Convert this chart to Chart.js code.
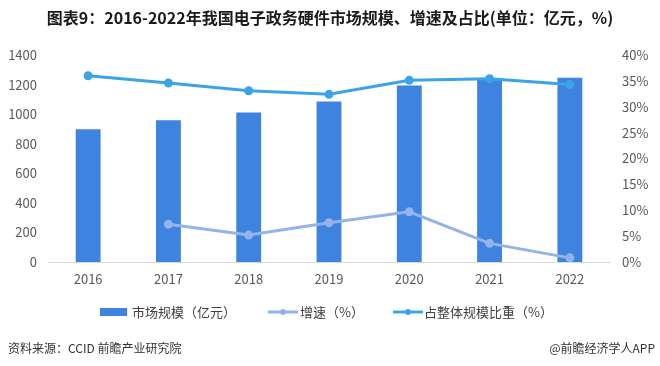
<!DOCTYPE html>
<html>
<head>
<meta charset="utf-8">
<script src="https://cdn.jsdelivr.net/npm/chart.js@4/dist/chart.umd.min.js"></script>
<style>
  html, body { margin: 0; padding: 0; background: #fff; }
  #wrap { position: relative; width: 660px; height: 366px; }
</style>
</head>
<body>
<div id="wrap"><canvas id="hwChart" width="660" height="366"></canvas></div>
<script>
const years = ["2016", "2017", "2018", "2019", "2020", "2021", "2022"];
const marketSize = [897, 958, 1011, 1085, 1194, 1235, 1246];
const growthRate = [null, 7.3, 5.2, 7.6, 9.7, 3.6, 0.8];
const shareOfTotal = [36.0, 34.6, 33.1, 32.4, 35.1, 35.4, 34.3];
const leftTicks = [0, 200, 400, 600, 800, 1000, 1200, 1400];
const rightTicks = [0, 5, 10, 15, 20, 25, 30, 35, 40];

const titleText = "图表9：2016-2022年我国电子政务硬件市场规模、增速及占比(单位：亿元，%)";
const sourceText = "资料来源：CCID 前瞻产业研究院";
const brandText = "@前瞻经济学人APP";

const FONT = '"Noto Sans CJK SC", "Noto Sans", sans-serif';
const barColor = "#3f83e0";
const growthColor = "#93b3ea";
const shareColor = "#3ba4e6";

// title, legend and footer drawn straight on the canvas
const extras = {
  id: "extras",
  afterDraw(chart) {
    const c = chart.ctx;
    c.save();
    c.fillStyle = "#1a1a1a";
    c.font = "bold 16px " + FONT;
    c.textAlign = "center";
    c.textBaseline = "middle";
    c.fillText(titleText, 330, 18);

    // legend
    c.font = "13px " + FONT;
    c.textAlign = "left";
    const ly = 312;
    c.fillStyle = barColor;
    c.fillRect(100, ly - 4, 27, 8);
    c.fillStyle = "#404040";
    c.fillText(chart.data.datasets[0].label, 132, ly);

    const lineKey = (x, color) => {
      c.strokeStyle = color;
      c.lineWidth = 3;
      c.beginPath();
      c.moveTo(x, ly);
      c.lineTo(x + 30, ly);
      c.stroke();
      c.fillStyle = color;
      c.beginPath();
      c.arc(x + 15, ly, 3, 0, Math.PI * 2);
      c.fill();
    };
    lineKey(268, growthColor);
    c.fillStyle = "#404040";
    c.fillText(chart.data.datasets[1].label, 300, ly);
    lineKey(393, shareColor);
    c.fillStyle = "#404040";
    c.fillText(chart.data.datasets[2].label, 424, ly);

    // footer
    c.font = "12px " + FONT;
    c.fillStyle = "#333";
    c.fillText(sourceText, 8, 348);
    c.textAlign = "right";
    c.fillText(brandText, 655, 348);
    c.restore();
  }
};

new Chart(document.getElementById("hwChart"), {
  data: {
    labels: years,
    datasets: [
      {
        type: "bar",
        label: "市场规模（亿元）",
        data: marketSize,
        backgroundColor: barColor,
        yAxisID: "y",
        barPercentage: 0.31,
        categoryPercentage: 1,
        order: 2
      },
      {
        type: "line",
        label: "增速（%）",
        data: growthRate,
        borderColor: growthColor,
        backgroundColor: growthColor,
        borderWidth: 3,
        pointRadius: 3,
        tension: 0,
        yAxisID: "y1",
        order: 1
      },
      {
        type: "line",
        label: "占整体规模比重（%）",
        data: shareOfTotal,
        borderColor: shareColor,
        backgroundColor: shareColor,
        borderWidth: 3,
        pointRadius: 3,
        tension: 0,
        yAxisID: "y1",
        order: 0
      }
    ]
  },
  options: {
    responsive: false,
    animation: false,
    layout: { padding: { top: 55, bottom: 74, left: 0, right: 0 } },
    plugins: {
      legend: { display: false },
      tooltip: { enabled: false }
    },
    scales: {
      x: {
        grid: { display: false, drawTicks: false },
        border: { color: "#d9d9d9", width: 1 },
        ticks: { color: "#595959", font: { family: FONT, size: 13 }, padding: 9 },
        afterFit: s => { s.height = 30; }
      },
      y: {
        position: "left",
        min: 0,
        max: 1400,
        afterBuildTicks: s => { s.ticks = leftTicks.map(v => ({ value: v })); },
        grid: { display: false, drawTicks: false },
        border: { display: false },
        ticks: {
          color: "#595959",
          font: { family: FONT, size: 13 },
          padding: 11,
          callback: v => String(v)
        },
        afterFit: s => { s.width = 48; }
      },
      y1: {
        position: "right",
        min: 0,
        max: 40,
        afterBuildTicks: s => { s.ticks = rightTicks.map(v => ({ value: v })); },
        grid: { display: false, drawTicks: false },
        border: { display: false },
        ticks: {
          color: "#595959",
          font: { family: FONT, size: 13 },
          padding: 12,
          callback: v => v + "%"
        },
        afterFit: s => { s.width = 50; }
      }
    }
  },
  plugins: [extras]
});
</script>
</body>
</html>
